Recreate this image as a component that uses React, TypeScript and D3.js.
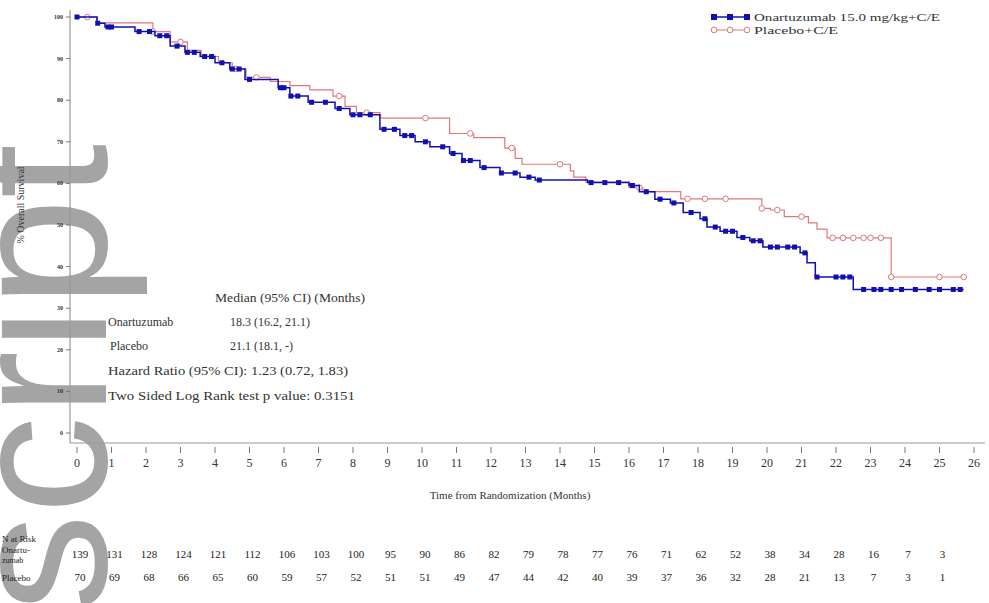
import { useEffect, useRef } from "react";
import * as d3 from "d3";

// Kaplan-Meier steps (months, % surviving)
const onaTimes = [0, 0.58, 0.81, 1.68, 2.26, 2.7, 3.13, 3.57, 4.0, 4.43, 4.87, 5.83, 6.17, 6.7, 7.48, 7.91, 8.78, 9.36, 9.8, 10.23, 10.8, 11.16, 11.68, 12.26, 12.84, 13.28, 14.8, 16.0, 16.3, 16.75, 17.2, 17.57, 18.06, 18.26, 18.64, 19.13, 19.5, 19.88, 20.96, 21.16, 21.4, 22.5];
const onaSurv = [100, 98.5, 97.6, 96.5, 95.5, 93, 91.5, 90.5, 89, 87.5, 85, 83, 81, 79.5, 78, 76.5, 73, 71.5, 70, 68.8, 67.2, 65.5, 63.8, 62.5, 61.5, 60.8, 60.2, 59.5, 58, 56.2, 55.3, 53, 51.5, 49.5, 48.5, 47, 46.2, 44.7, 43.3, 40.9, 37.5, 34.5];
const onaCensor = [0, 0.6, 0.9, 1.0, 1.8, 2.1, 2.4, 2.6, 2.9, 3.2, 3.4, 3.7, 3.9, 4.2, 4.5, 4.7, 5.0, 5.9, 6.0, 6.2, 6.4, 6.8, 7.2, 7.6, 8.0, 8.2, 8.5, 8.9, 9.2, 9.5, 9.7, 10.1, 10.6, 10.9, 11.2, 11.4, 11.8, 12.3, 12.7, 13.1, 13.4, 14.9, 15.3, 15.7, 16.1, 16.5, 16.9, 17.3, 17.8, 18.2, 18.5, 18.8, 19.0, 19.3, 19.6, 19.8, 20.1, 20.3, 20.6, 20.8, 21.1, 21.45, 22.0, 22.2, 22.4, 22.8, 23.1, 23.3, 23.6, 23.9, 24.3, 24.7, 25.0, 25.4, 25.6];

const plaTimes = [0, 0.58, 2.2, 2.7, 3.2, 3.6, 4.1, 4.5, 4.9, 5.6, 6.17, 6.75, 7.42, 7.77, 8.1, 8.78, 10.8, 11.5, 12.4, 12.7, 12.9, 14.3, 14.4, 14.75, 16.0, 16.4, 17.5, 19.85, 20.1, 20.5, 21.2, 21.45, 21.74, 23.6];
const plaSurv = [100, 98.6, 96.5, 94, 92, 90.5, 89, 87.5, 85.5, 84.5, 83.5, 82.5, 81, 78.5, 77, 75.7, 72, 71, 68.5, 66, 64.6, 63, 61.5, 60.3, 59, 58, 56.3, 54, 53.6, 52, 50.5, 49, 46.9, 37.5];
const plaCensor = [0.3, 2.2, 3.0, 4.6, 5.2, 7.6, 8.4, 10.1, 11.4, 12.6, 14.0, 16.3, 17.7, 18.2, 18.8, 19.85, 20.3, 21.0, 21.9, 22.2, 22.5, 22.8, 23.0, 23.3, 23.6, 25.0, 25.7];
const endTime = 25.7;

const xTicks = d3.range(0, 27);
const yTicks = [0, 10, 20, 30, 40, 50, 60, 70, 80, 90, 100];
const riskMonths = d3.range(0, 26);
const onaRisk = [139, 131, 128, 124, 121, 112, 106, 103, 100, 95, 90, 86, 82, 79, 78, 77, 76, 71, 62, 52, 38, 34, 28, 16, 7, 3];
const plaRisk = [70, 69, 68, 66, 65, 60, 59, 57, 52, 51, 51, 49, 47, 44, 42, 40, 39, 37, 36, 32, 28, 21, 13, 7, 3, 1];

const statLines = [
  "Hazard Ratio (95% CI): 1.23 (0.72, 1.83)",
  "Two Sided Log Rank test p value: 0.3151",
];

const BLUE = "#1010b0";
const PINK = "#e07878";
const SERIF = "'Liberation Serif', 'DejaVu Serif', serif";

const App = () => {
  const svgRef = useRef(null);

  useEffect(() => {
    const svg = d3.select(svgRef.current);
    svg.selectAll("*").remove();

    const x = d3.scaleLinear().domain([0, 26]).range([77, 974]);
    const y = d3.scaleLinear().domain([0, 100]).range([433, 17]);

    // manuscript watermark, behind everything else
    svg.append("text").attr("transform", "translate(106,612) rotate(-90)")
      .attr("font-family", "'Liberation Sans', Arial, sans-serif").attr("font-size", 196)
      .attr("fill", "#a4a4a4").text("script");

    // axes
    const axisY = 443;
    svg.append("line").attr("x1", 70).attr("x2", 985).attr("y1", axisY).attr("y2", axisY)
      .attr("stroke", "#999").attr("stroke-width", 1.2);
    svg.append("line").attr("x1", 70).attr("x2", 70).attr("y1", 10).attr("y2", axisY)
      .attr("stroke", "#999").attr("stroke-width", 1.2);

    svg.append("g").selectAll("line").data(xTicks).join("line")
      .attr("x1", (d) => x(d)).attr("x2", (d) => x(d))
      .attr("y1", axisY + 4).attr("y2", axisY + 10)
      .attr("stroke", "#777");
    svg.append("g").selectAll("text").data(xTicks).join("text")
      .attr("x", (d) => x(d)).attr("y", 467)
      .attr("text-anchor", "middle").attr("font-family", SERIF).attr("font-size", 12)
      .attr("fill", "#333").text((d) => d);

    svg.append("g").selectAll("line").data(yTicks).join("line")
      .attr("x1", 66).attr("x2", 70)
      .attr("y1", (d) => y(d)).attr("y2", (d) => y(d))
      .attr("stroke", "#777");
    svg.append("g").selectAll("text").data(yTicks).join("text")
      .attr("x", 63).attr("y", (d) => y(d) + 2)
      .attr("text-anchor", "end").attr("font-family", SERIF).attr("font-size", 6)
      .attr("font-weight", "bold").attr("fill", "#333").text((d) => d);

    svg.append("text").attr("transform", "translate(24,205) rotate(-90)")
      .attr("text-anchor", "middle").attr("font-family", SERIF).attr("font-size", 10)
      .attr("fill", "#333").text("% Overall Survival");

    svg.append("text").attr("x", 510).attr("y", 499)
      .attr("text-anchor", "middle").attr("font-family", SERIF).attr("font-size", 11)
      .attr("fill", "#333").text("Time from Randomization (Months)");

    // KM curves
    const step = d3.line().curve(d3.curveStepAfter)
      .x((d) => x(d[0])).y((d) => y(d[1]));
    const survAt = (times, surv, t) => surv[d3.bisectRight(times, t) - 1];

    const plaPts = plaTimes.map((t, i) => [t, plaSurv[i]]).concat([[endTime, plaSurv[plaSurv.length - 1]]]);
    const onaPts = onaTimes.map((t, i) => [t, onaSurv[i]]).concat([[endTime, onaSurv[onaSurv.length - 1]]]);

    svg.append("path").attr("d", step(plaPts)).attr("fill", "none")
      .attr("stroke", PINK).attr("stroke-width", 1.2);
    svg.append("g").selectAll("circle").data(plaCensor).join("circle")
      .attr("cx", (d) => x(d)).attr("cy", (d) => y(survAt(plaTimes, plaSurv, d)))
      .attr("r", 2.8).attr("fill", "white").attr("stroke", PINK).attr("stroke-width", 1);

    svg.append("path").attr("d", step(onaPts)).attr("fill", "none")
      .attr("stroke", BLUE).attr("stroke-width", 1.5);
    svg.append("g").selectAll("rect").data(onaCensor).join("rect")
      .attr("x", (d) => x(d) - 2.5).attr("y", (d) => y(survAt(onaTimes, onaSurv, d)) - 2.5)
      .attr("width", 5).attr("height", 5).attr("fill", BLUE);

    // legend
    const lg = svg.append("g");
    lg.append("line").attr("x1", 712).attr("x2", 750).attr("y1", 17).attr("y2", 17)
      .attr("stroke", BLUE).attr("stroke-width", 1.5);
    lg.selectAll("rect").data([714, 730, 747]).join("rect")
      .attr("x", (d) => d - 3).attr("y", 14).attr("width", 6).attr("height", 6).attr("fill", BLUE);
    lg.append("line").attr("x1", 712).attr("x2", 750).attr("y1", 30).attr("y2", 30)
      .attr("stroke", PINK).attr("stroke-width", 1.2);
    lg.selectAll("circle").data([714, 730, 747]).join("circle")
      .attr("cx", (d) => d).attr("cy", 30).attr("r", 2.8)
      .attr("fill", "white").attr("stroke", PINK);
    lg.append("text").attr("x", 754).attr("y", 21).attr("font-family", SERIF).attr("font-size", 11)
      .attr("textLength", 186).attr("lengthAdjust", "spacingAndGlyphs")
      .attr("fill", "#333").text("Onartuzumab 15.0 mg/kg+C/E");
    lg.append("text").attr("x", 754).attr("y", 34).attr("font-family", SERIF).attr("font-size", 11)
      .attr("textLength", 84).attr("lengthAdjust", "spacingAndGlyphs")
      .attr("fill", "#333").text("Placebo+C/E");

    // stats box
    const st = svg.append("g").attr("font-family", SERIF).attr("font-size", 12).attr("fill", "#333");
    st.append("text").attr("x", 215).attr("y", 302).attr("textLength", 150)
      .attr("lengthAdjust", "spacingAndGlyphs").text("Median (95% CI) (Months)");
    st.append("text").attr("x", 108).attr("y", 326).text("Onartuzumab");
    st.append("text").attr("x", 230).attr("y", 326).text("18.3 (16.2, 21.1)");
    st.append("text").attr("x", 110).attr("y", 350).text("Placebo");
    st.append("text").attr("x", 230).attr("y", 350).text("21.1 (18.1, -)");
    st.selectAll("text.s").data(statLines).join("text").attr("class", "s")
      .attr("x", 108).attr("y", (d, i) => 375 + i * 25)
      .attr("textLength", (d, i) => (i === 0 ? 240 : 247))
      .attr("lengthAdjust", "spacingAndGlyphs").text((d) => d);

    // number at risk
    const rk = svg.append("g").attr("font-family", SERIF).attr("fill", "#222");
    rk.append("text").attr("x", 2).attr("y", 542).attr("font-size", 9).text("N at Risk");
    rk.append("text").attr("x", 2).attr("y", 553).attr("font-size", 9).text("Onartu-");
    rk.append("text").attr("x", 2).attr("y", 563).attr("font-size", 8).text("zumab");
    rk.append("text").attr("x", 2).attr("y", 581).attr("font-size", 9).text("Placebo");
    rk.append("g").selectAll("text").data(riskMonths).join("text")
      .attr("x", (d) => x(d) + 3).attr("y", 558).attr("text-anchor", "middle")
      .attr("font-size", 11).text((d, i) => onaRisk[i]);
    rk.append("g").selectAll("text").data(riskMonths).join("text")
      .attr("x", (d) => x(d) + 3).attr("y", 581).attr("text-anchor", "middle")
      .attr("font-size", 11).text((d, i) => plaRisk[i]);
  }, []);

  return (
    <svg ref={svgRef} width={989} height={603}
      style={{ position: "absolute", left: 0, top: 0, background: "white" }} />
  );
};

export default App;
